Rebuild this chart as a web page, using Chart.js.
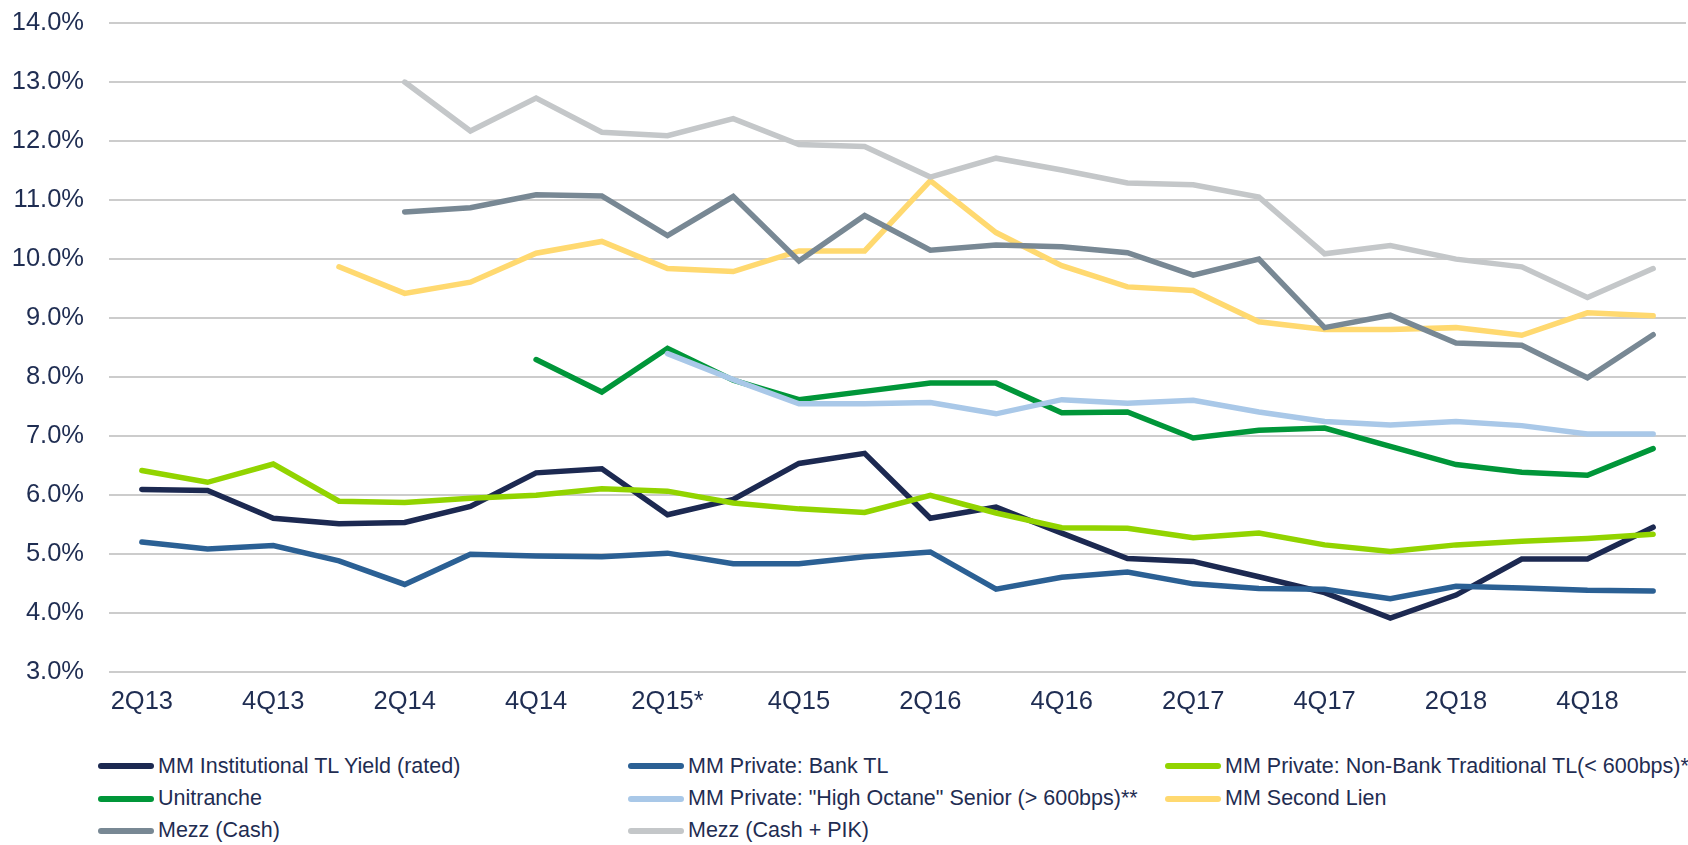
<!DOCTYPE html>
<html lang="en">
<head>
    <meta charset="UTF-8">
    <title>Middle Market Yields</title>
    <script src="https://cdn.jsdelivr.net/npm/chart.js"></script>
    <style>
        body {
            margin: 0;
            padding: 0;
            background: #ffffff;
            font-family: Arial, 'Liberation Sans', sans-serif;
            color: #1f2d52;
        }
        .chart-box {
            position: absolute;
            left: 0;
            top: 0;
            width: 1688px;
            height: 731px;
        }
        #legend {
            position: absolute;
            left: 98px;
            top: 750px;
            display: grid;
            grid-template-columns: 530px 537px auto;
            grid-auto-rows: 32.4px;
            font-size: 21.5px;
        }
        .item {
            display: flex;
            align-items: center;
            white-space: nowrap;
        }
        .swatch {
            width: 56px;
            height: 6px;
            border-radius: 3px;
            margin-right: 4px;
        }
    </style>
</head>
<body>

<div class="chart-box">
    <canvas id="yieldChart"></canvas>
</div>
<div id="legend"></div>

<script>
    const quarters = ['2Q13', '3Q13', '4Q13', '1Q14', '2Q14', '3Q14', '4Q14', '1Q15', '2Q15*', '3Q15', '4Q15', '1Q16',
        '2Q16', '3Q16', '4Q16', '1Q17', '2Q17', '3Q17', '4Q17', '1Q18', '2Q18', '3Q18', '4Q18', '1Q19'];

    const instTL = [6.10, 6.08, 5.61, 5.52, 5.54, 5.81, 6.38, 6.45, 5.67, 5.93, 6.54, 6.71,
        5.61, 5.80, 5.36, 4.93, 4.88, 4.62, 4.35, 3.92, 4.31, 4.92, 4.92, 5.46];
    const bankTL = [5.21, 5.09, 5.15, 4.89, 4.49, 5.00, 4.97, 4.96, 5.02, 4.84, 4.84, 4.96,
        5.04, 4.41, 4.61, 4.70, 4.50, 4.42, 4.41, 4.25, 4.46, 4.43, 4.39, 4.38];
    const nonBankTL = [6.42, 6.22, 6.53, 5.90, 5.88, 5.95, 6.00, 6.11, 6.07, 5.87, 5.77, 5.71,
        6.00, 5.70, 5.45, 5.44, 5.28, 5.36, 5.16, 5.05, 5.16, 5.22, 5.27, 5.34];
    const unitranche = [null, null, null, null, null, null, 8.30, 7.75, 8.49, 7.95, 7.62, 7.76,
        7.90, 7.90, 7.40, 7.41, 6.97, 7.10, 7.14, 6.83, 6.52, 6.39, 6.34, 6.79];
    const highOctane = [null, null, null, null, null, null, null, null, 8.40, 7.96, 7.55, 7.55,
        7.57, 7.38, 7.62, 7.56, 7.61, 7.41, 7.25, 7.19, 7.25, 7.18, 7.04, 7.04];
    const secondLien = [null, null, null, 9.87, 9.42, 9.61, 10.10, 10.30, 9.84, 9.79, 10.14, 10.14,
        11.33, 10.45, 9.89, 9.53, 9.47, 8.94, 8.81, 8.81, 8.84, 8.71, 9.09, 9.04];
    const mezzCash = [null, null, null, null, 10.80, 10.87, 11.09, 11.07, 10.40, 11.06, 9.97, 10.74,
        10.15, 10.24, 10.21, 10.11, 9.73, 10.00, 8.84, 9.05, 8.58, 8.54, 7.99, 8.72];
    const mezzPIK = [null, null, null, null, 13.00, 12.17, 12.73, 12.15, 12.09, 12.38, 11.94, 11.91,
        11.39, 11.71, 11.51, 11.29, 11.26, 11.05, 10.09, 10.23, 10.00, 9.87, 9.35, 9.84];

    const seriesNames = [
        'MM Institutional TL Yield (rated)',
        'MM Private: Bank TL',
        'MM Private: Non-Bank Traditional TL(< 600bps)*',
        'Unitranche',
        'MM Private: "High Octane" Senior (> 600bps)**',
        'MM Second Lien',
        'Mezz (Cash)',
        'Mezz (Cash + PIK)'
    ];
    const seriesData = [instTL, bankTL, nonBankTL, unitranche, highOctane, secondLien, mezzCash, mezzPIK];
    const seriesColors = ['#1c2951', '#2b6094', '#92d400', '#009639', '#a9c8e8', '#ffd970', '#788894', '#c4c7c9'];

    const textColor = '#1f2d52';
    const fontFamily = "Arial, 'Liberation Sans', sans-serif";

    // later series sit on top, like the spreadsheet original
    const datasets = seriesNames.map((name, i) => ({
        label: name,
        data: seriesData[i],
        borderColor: seriesColors[i],
        backgroundColor: seriesColors[i],
        borderWidth: 5.5,
        borderCapStyle: 'round',
        pointRadius: 0,
        tension: 0,
        order: seriesNames.length - i
    }));

    new Chart(document.getElementById('yieldChart'), {
        type: 'line',
        data: {
            labels: quarters,
            datasets: datasets
        },
        options: {
            responsive: true,
            maintainAspectRatio: false,
            animation: false,
            layout: {
                padding: { top: 23, right: 2, bottom: 0, left: 0 }
            },
            plugins: {
                legend: { display: false },
                tooltip: { enabled: false }
            },
            scales: {
                x: {
                    offset: true,
                    grid: { display: false, drawTicks: false },
                    border: { display: false },
                    ticks: {
                        autoSkip: false,
                        maxRotation: 0,
                        padding: 14,
                        color: textColor,
                        font: { family: fontFamily, size: 25.5 },
                        callback: function (value, index) {
                            return index % 2 === 0 ? quarters[index] : '';
                        }
                    }
                },
                y: {
                    min: 3,
                    max: 14,
                    grid: { color: '#cccccc', lineWidth: 2, drawTicks: false },
                    border: { display: false },
                    afterFit: function (scale) {
                        scale.width = 109;
                        scale.paddingTop = 0;
                    },
                    ticks: {
                        stepSize: 1,
                        padding: 25,
                        color: textColor,
                        font: { family: fontFamily, size: 25.5 },
                        callback: function (value) {
                            return value.toFixed(1) + '%';
                        }
                    }
                }
            }
        }
    });

    // three column legend under the plot
    const legendBox = document.getElementById('legend');
    seriesNames.forEach((name, i) => {
        const item = document.createElement('div');
        item.className = 'item';
        const swatch = document.createElement('span');
        swatch.className = 'swatch';
        swatch.style.background = seriesColors[i];
        const label = document.createElement('span');
        label.textContent = name;
        item.appendChild(swatch);
        item.appendChild(label);
        legendBox.appendChild(item);
    });
</script>

</body>
</html>
